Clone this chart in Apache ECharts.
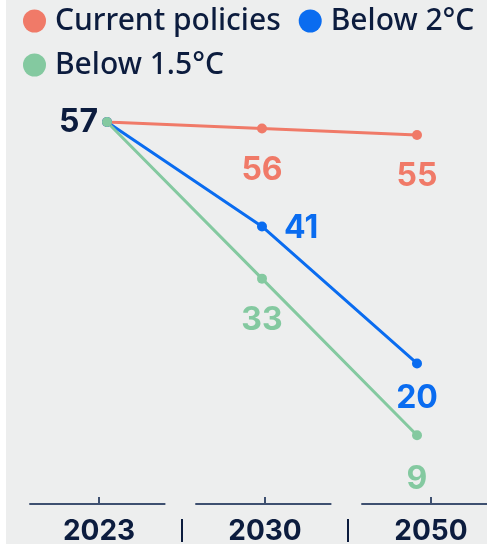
<!DOCTYPE html>
<html>
<head>
<meta charset="utf-8">
<script src="https://cdn.jsdelivr.net/npm/echarts@6/dist/echarts.min.js"></script>
<style>
  html, body { margin: 0; padding: 0; background: #ffffff; }
  #chart { position: absolute; left: 6px; top: 0; width: 481px; height: 544px; background: #edeeee; }
</style>
</head>
<body>
<div id="chart"></div>
<script>
// Scenario data: emissions pathway values by year
const years = ['2023', '2030', '2050'];
const seriesNames = ['Current policies', 'Below 2°C', 'Below 1.5°C'];
const currentPolicies = [57, 56, 55];
const below2C = [57, 41, 20];
const below15C = [57, 33, 9];

const NAVY = '#0c1c3e';
const RED = '#f07a68';
const BLUE = '#0a6cf0';
const GREEN = '#84c9a0';
const FONT = 'Inter, "Noto Sans", sans-serif';
const LEGEND_FONT = '"Noto Sans", "Open Sans", sans-serif';

const chart = echarts.init(document.getElementById('chart'), null, { renderer: 'canvas' });

// Per-point label placement for each scenario (null = no label)
function buildPoints(values, color, placements) {
  return values.map((v, i) => {
    const p = placements[i];
    if (!p) return { value: v, label: { show: false } };
    return {
      value: v,
      label: {
        show: true,
        position: p.position,
        distance: p.distance,
        offset: p.offset || [0, 0],
        color: p.color || color,
        fontFamily: FONT,
        fontWeight: 700,
        fontSize: 32
      }
    };
  });
}

function lineSeries(name, values, color, placements) {
  return {
    name: name,
    type: 'line',
    xAxisIndex: 0,
    yAxisIndex: 0,
    data: buildPoints(values, color, placements),
    symbol: 'circle',
    symbolSize: 10,
    showSymbol: true,
    lineStyle: { color: color, width: 3 },
    itemStyle: { color: color },
    emphasis: { disabled: true },
    animation: false
  };
}

// Segmented bottom axis: one short rule per year, a tick at its centre, and separators between years
function renderAxisSegment(params, api) {
  const idx = api.value(0);
  const base = api.coord([idx, 0]);
  const band = api.size([1, 0])[0];
  const cx = base[0];
  const y = base[1];
  const children = [
    { type: 'line', shape: { x1: cx - 0.42 * band, y1: y, x2: cx + 0.4 * band, y2: y },
      style: { stroke: '#3e5070', lineWidth: 2 } },
    { type: 'line', shape: { x1: cx, y1: y - 7, x2: cx, y2: y },
      style: { stroke: '#3e5070', lineWidth: 2 } }
  ];
  if (idx < years.length - 1) {
    const sx = cx + band / 2;
    children.push({ type: 'line', shape: { x1: sx, y1: y + 15, x2: sx, y2: y + 38 },
      style: { stroke: NAVY, lineWidth: 2 } });
  }
  return { type: 'group', children: children };
}

const legendText = { color: NAVY, fontFamily: LEGEND_FONT, fontSize: 30, fontWeight: 500, padding: [0, 0, 0, 4] };

chart.setOption({
  animation: false,
  backgroundColor: 'transparent',
  legend: [
    {
      data: [seriesNames[0], seriesNames[1]],
      left: 17, top: 6, padding: 0,
      icon: 'circle', itemWidth: 23, itemHeight: 23, itemGap: 18,
      textStyle: legendText, selectedMode: false
    },
    {
      data: [seriesNames[2]],
      left: 17, top: 50, padding: 0,
      icon: 'circle', itemWidth: 23, itemHeight: 23, itemGap: 18,
      textStyle: legendText, selectedMode: false
    }
  ],
  grid: [
    { left: 101, right: 70, top: 122, bottom: 50, outerBoundsMode: 'none' },
    { left: 10, width: 498, top: 470, bottom: 40, outerBoundsMode: 'none' }
  ],
  xAxis: [
    { type: 'category', gridIndex: 0, data: years, boundaryGap: false, show: false },
    {
      type: 'category', gridIndex: 1, data: years, boundaryGap: true,
      axisLine: { show: false }, axisTick: { show: false },
      axisLabel: { color: NAVY, fontFamily: FONT, fontWeight: 700, fontSize: 28, margin: 14 }
    }
  ],
  yAxis: [
    { type: 'value', gridIndex: 0, min: 0, max: 57, show: false },
    { type: 'value', gridIndex: 1, min: 0, max: 1, show: false }
  ],
  series: [
    {
      type: 'custom',
      xAxisIndex: 1, yAxisIndex: 1,
      data: years.map((y, i) => [i, 0]),
      renderItem: renderAxisSegment,
      silent: true
    },
    lineSeries(seriesNames[0], currentPolicies, RED, [
      null,
      { position: 'bottom', distance: 21 },
      { position: 'bottom', distance: 20 }
    ]),
    lineSeries(seriesNames[1], below2C, BLUE, [
      null,
      { position: 'right', distance: 17, offset: [0, 2] },
      { position: 'bottom', distance: 14 }
    ]),
    lineSeries(seriesNames[2], below15C, GREEN, [
      { position: 'left', distance: 4, color: NAVY },
      { position: 'bottom', distance: 21 },
      { position: 'bottom', distance: 23 }
    ])
  ]
});
</script>
</body>
</html>
